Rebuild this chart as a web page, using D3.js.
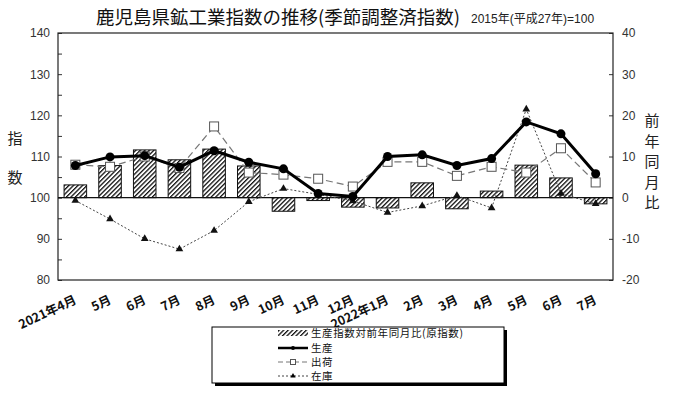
<!DOCTYPE html>
<html>
<head>
<meta charset="utf-8">
<script src="https://cdn.jsdelivr.net/npm/d3@7"></script>
<style>
  body { margin: 0; background: #fff; }
  svg { display: block; font-family: "Noto Sans CJK JP", "Liberation Sans", sans-serif; }
  .tick text { font-family: "Liberation Sans", Arial, sans-serif; font-size: 12px; fill: #333; }
</style>
</head>
<body>
<svg width="700" height="394"></svg>
<script>
"use strict";

// months (2021/4 - 2022/7)
const months = ["2021年4月", "5月", "6月", "7月", "8月", "9月", "10月", "11月", "12月",
                "2022年1月", "2月", "3月", "4月", "5月", "6月", "7月"];
// 生産指数対前年同月比 (原指数), % - right axis
const yoy = [3.1, 7.8, 11.6, 9.2, 11.8, 7.7, -3.3, -0.7, -2.3, -2.5, 3.6, -2.7, 1.6, 7.9, 4.8, -1.5];
// 生産 (seasonally adjusted index)
const production = [107.8, 109.9, 110.2, 107.4, 111.4, 108.6, 107.0, 101.0, 100.3, 110.0, 110.4, 107.8, 109.5, 118.4, 115.5, 105.8];
// 出荷
const shipments = [108.0, 107.5, 110.0, 107.2, 117.3, 106.1, 105.6, 104.6, 102.7, 108.7, 108.7, 105.3, 107.5, 106.1, 112.0, 103.7];
// 在庫
const inventory = [99.3, 94.8, 90.0, 87.5, 92.0, 99.0, 102.2, 100.8, 99.2, 96.4, 98.0, 100.5, 97.5, 121.5, 101.0, 98.5];

const leftTicks = [80, 90, 100, 110, 120, 130, 140];
const rightTicks = [-20, -10, 0, 10, 20, 30, 40];

const svg = d3.select("svg");
const plot = { left: 58, right: 613, top: 33, bottom: 280 };

// hatch pattern for bars
const defs = svg.append("defs");
defs.append("pattern")
  .attr("id", "hatch")
  .attr("patternUnits", "userSpaceOnUse")
  .attr("width", 3.2).attr("height", 3.2)
  .attr("patternTransform", "rotate(45)")
  .call(p => {
    p.append("rect").attr("width", 3.2).attr("height", 3.2).attr("fill", "#fff");
    p.append("rect").attr("width", 1.3).attr("height", 3.2).attr("fill", "#111");
  });

// scales
const x = d3.scaleBand()
  .domain(d3.range(months.length))
  .range([plot.left, plot.right])
  .paddingInner(0.35)
  .paddingOuter(0.175);
const cx = i => x(i) + x.bandwidth() / 2;

const yL = d3.scaleLinear().domain([80, 140]).range([plot.bottom, plot.top]);
const yR = d3.scaleLinear().domain([-20, 40]).range([plot.bottom, plot.top]);

// title
svg.append("text")
  .attr("x", 96).attr("y", 24)
  .attr("font-size", 18.5)
  .attr("fill", "#111")
  .text("鹿児島県鉱工業指数の推移(季節調整済指数)");
svg.append("text")
  .attr("x", 471).attr("y", 23)
  .attr("font-size", 12)
  .attr("fill", "#222")
  .attr("font-family", "Liberation Sans, Noto Sans CJK JP, sans-serif")
  .text("2015年(平成27年)=100");

// left axis
svg.append("g")
  .attr("transform", `translate(${plot.left},0)`)
  .call(d3.axisLeft(yL).tickValues(d3.range(80, 141, 5)).tickSizeInner(-4).tickSizeOuter(0).tickPadding(8)
    .tickFormat(d => leftTicks.includes(d) ? d : ""))
  .call(g => g.select(".domain").remove())
  .call(g => g.selectAll(".tick line").attr("stroke", "#333"));

// right axis
svg.append("g")
  .attr("transform", `translate(${plot.right},0)`)
  .call(d3.axisRight(yR).tickValues(rightTicks).tickSizeInner(-4).tickSizeOuter(0).tickPadding(9)
    .tickFormat(d => d < 0 ? "-" + Math.abs(d) : d))
  .call(g => g.select(".domain").remove())
  .call(g => g.selectAll(".tick line").attr("stroke", "#333"));

// frame
svg.append("rect")
  .attr("x", plot.left).attr("y", plot.top)
  .attr("width", plot.right - plot.left).attr("height", plot.bottom - plot.top)
  .attr("fill", "none").attr("stroke", "#222").attr("stroke-width", 1.2);

// axis titles
svg.append("g").selectAll("text")
  .data(["指", "数"])
  .join("text")
  .attr("x", 15).attr("y", (d, i) => 144 + i * 39)
  .attr("text-anchor", "middle")
  .attr("font-size", 15)
  .attr("fill", "#222")
  .text(d => d);
svg.append("g").selectAll("text")
  .data(["前", "年", "同", "月", "比"])
  .join("text")
  .attr("x", 652).attr("y", (d, i) => 126 + i * 20.5)
  .attr("text-anchor", "middle")
  .attr("font-size", 15)
  .attr("fill", "#222")
  .text(d => d);

// bars (yoy, right axis)
svg.append("g")
  .selectAll("rect")
  .data(yoy)
  .join("rect")
  .attr("x", (d, i) => x(i))
  .attr("width", x.bandwidth())
  .attr("y", d => yR(Math.max(0, d)))
  .attr("height", d => Math.abs(yR(d) - yR(0)))
  .attr("fill", "url(#hatch)")
  .attr("stroke", "#111")
  .attr("stroke-width", 1);

// baseline 100 / 0
svg.append("line")
  .attr("x1", plot.left).attr("x2", plot.right)
  .attr("y1", yL(100)).attr("y2", yL(100))
  .attr("stroke", "#111").attr("stroke-width", 1.2);

const line = d3.line().x((d, i) => cx(i)).y(d => yL(d));
const triangle = d3.symbol().type(d3.symbolTriangle).size(26);

// inventory
svg.append("path")
  .datum(inventory)
  .attr("d", line)
  .attr("fill", "none")
  .attr("stroke", "#444")
  .attr("stroke-width", 1)
  .attr("stroke-dasharray", "2,2");
svg.append("g")
  .selectAll("path")
  .data(inventory)
  .join("path")
  .attr("d", triangle)
  .attr("transform", (d, i) => `translate(${cx(i)},${yL(d)})`)
  .attr("fill", "#111");

// shipments
svg.append("path")
  .datum(shipments)
  .attr("d", line)
  .attr("fill", "none")
  .attr("stroke", "#777")
  .attr("stroke-width", 1.2)
  .attr("stroke-dasharray", "7,4");
svg.append("g")
  .selectAll("rect")
  .data(shipments)
  .join("rect")
  .attr("x", (d, i) => cx(i) - 4.5)
  .attr("y", d => yL(d) - 4.5)
  .attr("width", 9).attr("height", 9)
  .attr("fill", "#fff")
  .attr("stroke", "#555")
  .attr("stroke-width", 1);

// production
svg.append("path")
  .datum(production)
  .attr("d", line)
  .attr("fill", "none")
  .attr("stroke", "#000")
  .attr("stroke-width", 3);
svg.append("g")
  .selectAll("circle")
  .data(production)
  .join("circle")
  .attr("cx", (d, i) => cx(i))
  .attr("cy", d => yL(d))
  .attr("r", 4.5)
  .attr("fill", "#000");

// x labels
svg.append("g")
  .selectAll("text")
  .data(months)
  .join("text")
  .attr("transform", (d, i) => `translate(${cx(i) + 2},${303}) rotate(-25)`)
  .attr("text-anchor", "end")
  .attr("font-size", 12.5)
  .attr("font-weight", 700)
  .attr("fill", "#111")
  .text(d => d);

// legend
const lg = svg.append("g").attr("transform", "translate(212,327)");
lg.append("rect").attr("x", 3).attr("y", 3).attr("width", 292).attr("height", 56).attr("fill", "#000");
lg.append("rect").attr("width", 292).attr("height", 56).attr("fill", "#fff").attr("stroke", "#000").attr("stroke-width", 1);

const legendItems = ["生産指数対前年同月比(原指数)", "生産", "出荷", "在庫"];
const rowY = [6, 21, 35, 49];
const sx0 = 66, sx1 = 96;

legendItems.forEach((name, i) => {
  const g = lg.append("g").attr("transform", `translate(0,${rowY[i]})`);
  if (i === 0) {
    g.append("rect").attr("x", sx0).attr("y", -3).attr("width", sx1 - sx0).attr("height", 6)
      .attr("fill", "url(#hatch)");
  } else if (i === 1) {
    g.append("line").attr("x1", sx0).attr("x2", sx1).attr("stroke", "#000").attr("stroke-width", 2.5);
    g.append("circle").attr("cx", (sx0 + sx1) / 2).attr("r", 2).attr("fill", "#000");
  } else if (i === 2) {
    g.append("line").attr("x1", sx0).attr("x2", sx1).attr("stroke", "#777").attr("stroke-dasharray", "5,3");
    g.append("rect").attr("x", (sx0 + sx1) / 2 - 2.5).attr("y", -2.5).attr("width", 5).attr("height", 5)
      .attr("fill", "#fff").attr("stroke", "#555");
  } else {
    g.append("line").attr("x1", sx0).attr("x2", sx1).attr("stroke", "#444").attr("stroke-dasharray", "2,2");
    g.append("path").attr("d", d3.symbol().type(d3.symbolTriangle).size(12)).attr("transform", `translate(${(sx0 + sx1) / 2},0)`);
  }
  g.append("text")
    .attr("x", sx1 + 3).attr("y", 4)
    .attr("font-size", 10.5)
    .attr("letter-spacing", 0.6)
    .attr("fill", "#111")
    .text(name);
});
</script>
</body>
</html>
